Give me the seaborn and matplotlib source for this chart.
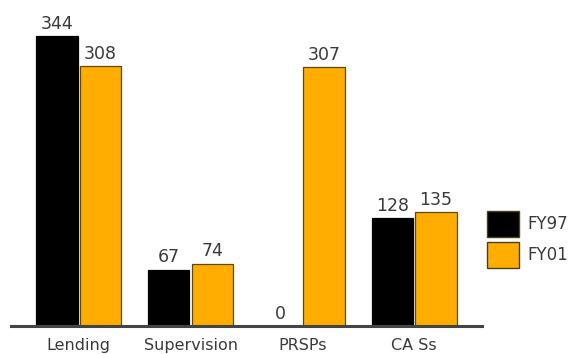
import matplotlib
matplotlib.use("Agg")
import matplotlib.pyplot as plt
import seaborn as sns
import pandas as pd

categories = ["Lending", "Supervision", "PRSPs", "CASs"]
tick_labels = ["Lending", "Supervision", "PRSPs", "CA Ss"]
fy97 = [344, 67, 0, 128]
fy01 = [308, 74, 307, 135]
series = ["FY97", "FY01"]

df = pd.DataFrame({
    "category": categories * 2,
    "year": [series[0]] * len(categories) + [series[1]] * len(categories),
    "count": fy97 + fy01,
})

sns.set_theme(style="white")
plt.rcParams["font.family"] = ["DejaVu Sans"]

fig = plt.figure(figsize=(5.75, 3.54), dpi=100)
ax = fig.add_axes([0.019, 0.079, 0.819, 0.921])

palette = {"FY97": "#000000", "FY01": "#FFAD00"}
sns.barplot(data=df, x="category", y="count", hue="year", order=categories,
            hue_order=series, palette=palette, width=0.78, gap=0.05,
            saturation=1, ax=ax, legend=True)

edge = {"FY97": "#000000", "FY01": "#5a4a10"}
text_color = "#3a3a3a"
for cont, name in zip(ax.containers, series):
    for bar in cont:
        bar.set_edgecolor(edge[name])
        bar.set_linewidth(0.9)
    ax.bar_label(cont, fmt="%d", padding=2.5, fontsize=12.5, color=text_color)

ax.set_xlim(-0.607, 3.607)
ax.set_ylim(0, 386.7)
ax.set_xticks(range(len(categories)))
ax.set_xticklabels(tick_labels, fontsize=11.5, color=text_color)
ax.tick_params(axis="x", length=0, pad=8.5)
ax.set_yticks([])
ax.set_xlabel("")
ax.set_ylabel("")
for side in ["top", "left", "right"]:
    ax.spines[side].set_visible(False)
ax.spines["bottom"].set_color("#444444")
ax.spines["bottom"].set_linewidth(2.2)

handles, labels = ax.get_legend_handles_labels()
for h in handles:
    h.set_edgecolor("#4a4020")
ax.legend(handles, labels, loc="upper left", bbox_to_anchor=(0.833, 0.427),
          bbox_transform=fig.transFigure, frameon=False, borderpad=0,
          fontsize=12, handlelength=1.92, handleheight=2.0,
          handletextpad=0.48, labelspacing=0.3, labelcolor=text_color)

fig.savefig("out.png", dpi=100)
